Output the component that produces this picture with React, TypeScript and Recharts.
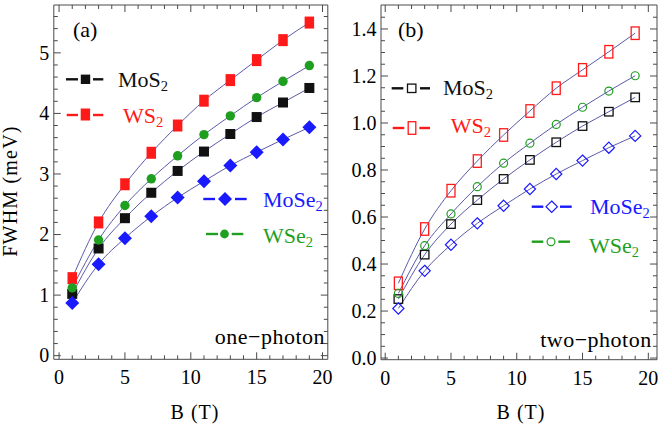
import React from 'react';
import { LineChart, Line, XAxis, YAxis } from 'recharts';

// ---------- data ----------
const B_FIELD = [1, 3, 5, 7, 9, 11, 13, 15, 17, 19];

// (a) one-photon FWHM (meV)
const ONE_MOS2 = [1.02, 1.77, 2.27, 2.69, 3.05, 3.37, 3.66, 3.94, 4.18, 4.42];
const ONE_WS2 = [1.28, 2.2, 2.83, 3.35, 3.8, 4.21, 4.55, 4.88, 5.21, 5.5];
const ONE_MOSE2 = [0.87, 1.51, 1.94, 2.3, 2.61, 2.88, 3.14, 3.36, 3.57, 3.77];
const ONE_WSE2 = [1.12, 1.91, 2.48, 2.92, 3.3, 3.65, 3.96, 4.26, 4.53, 4.79];

// (b) two-photon FWHM (meV)
const TWO_MOS2 = [0.251, 0.44, 0.57, 0.672, 0.762, 0.843, 0.918, 0.987, 1.048, 1.109];
const TWO_WS2 = [0.318, 0.549, 0.712, 0.838, 0.949, 1.051, 1.148, 1.226, 1.303, 1.382];
const TWO_MOSE2 = [0.211, 0.371, 0.482, 0.573, 0.648, 0.719, 0.783, 0.84, 0.895, 0.945];
const TWO_WSE2 = [0.275, 0.478, 0.613, 0.729, 0.829, 0.914, 0.994, 1.067, 1.136, 1.201];

// ticks
const X_MAJOR = [0, 5, 10, 15, 20];
const X_TICKS = [0, 1, 2, 3, 4, 5, 6, 7, 8, 9, 10, 11, 12, 13, 14, 15, 16, 17, 18, 19, 20];
const Y1_MAJOR = [0, 1, 2, 3, 4, 5];
const Y1_TICKS = [0, 0.2, 0.4, 0.6, 0.8, 1, 1.2, 1.4, 1.6, 1.8, 2, 2.2, 2.4, 2.6, 2.8, 3, 3.2, 3.4, 3.6, 3.8, 4, 4.2, 4.4, 4.6, 4.8, 5, 5.2, 5.4, 5.6];
const Y2_MAJOR = [0, 0.2, 0.4, 0.6, 0.8, 1.0, 1.2, 1.4];
const Y2_LABELS = ['0.0', '0.2', '0.4', '0.6', '0.8', '1.0', '1.2', '1.4'];
const Y2_TICKS = [0, 0.05, 0.1, 0.15, 0.2, 0.25, 0.3, 0.35, 0.4, 0.45, 0.5, 0.55, 0.6, 0.65, 0.7, 0.75, 0.8, 0.85, 0.9, 0.95, 1.0, 1.05, 1.1, 1.15, 1.2, 1.25, 1.3, 1.35, 1.4, 1.45];

const SERIES = ['mos2', 'ws2', 'mose2', 'wse2'];

const dataOne = B_FIELD.map((b, i) => ({ b, mos2: ONE_MOS2[i], ws2: ONE_WS2[i], mose2: ONE_MOSE2[i], wse2: ONE_WSE2[i] }));
const dataTwo = B_FIELD.map((b, i) => ({ b, mos2: TWO_MOS2[i], ws2: TWO_WS2[i], mose2: TWO_MOSE2[i], wse2: TWO_WSE2[i] }));

// ---------- styles ----------
const FONT = "'Liberation Serif', 'Times New Roman', Tinos, Times, serif";
const FRAME = '#4a4a4a';
const CURVE = '#5a5aa8';
const RED = '#ff1a1a';
const GREEN = '#1f9f1f';
const BLUE = '#1a1aff';
const BLACK = '#111111';

type Side = 'bottom' | 'top' | 'left' | 'right';

function makeTick(side: Side, majors: number[], labels?: string[]) {
  return (props: any) => {
    const { x, y, payload } = props;
    const v = payload.value;
    const mi = majors.findIndex((m) => Math.abs(m - v) < 1e-6);
    const major = mi >= 0;
    const len = major ? 7 : 4;
    let ln: any = null;
    let tx: any = null;
    if (side === 'bottom') {
      ln = <line x1={x} y1={y} x2={x} y2={y - len} />;
      if (labels && major) tx = <text x={x} y={y + 25} textAnchor="middle">{labels[mi]}</text>;
    } else if (side === 'top') {
      ln = <line x1={x} y1={y} x2={x} y2={y + len} />;
    } else if (side === 'left') {
      ln = <line x1={x} y1={y} x2={x + len} y2={y} />;
      if (labels && major) tx = <text x={x - 4.5} y={y + 6.8} textAnchor="end">{labels[mi]}</text>;
    } else {
      ln = <line x1={x} y1={y} x2={x - len} y2={y} />;
    }
    return (
      <g>
        <g stroke={FRAME} strokeWidth={1}>{ln}</g>
        {tx && <g fill="#000" style={{ fontFamily: FONT, fontSize: 20 }}>{tx}</g>}
      </g>
    );
  };
}

// ---------- marker shapes ----------
function fSquare(color: string, w: number, h: number) {
  return (p: any) => <rect key={`s${p.index}`} x={p.cx - w / 2} y={p.cy - h / 2} width={w} height={h} fill={color} />;
}
function fCircle(color: string, r: number) {
  return (p: any) => <circle key={`c${p.index}`} cx={p.cx} cy={p.cy} r={r} fill={color} />;
}
function fDiamond(color: string, h: number) {
  return (p: any) => (
    <polygon key={`d${p.index}`} points={`${p.cx},${p.cy - h} ${p.cx + h},${p.cy} ${p.cx},${p.cy + h} ${p.cx - h},${p.cy}`} fill={color} />
  );
}
function oSquare(color: string, w: number, h: number) {
  return (p: any) => <rect key={`os${p.index}`} x={p.cx - w / 2} y={p.cy - h / 2} width={w} height={h} fill="none" stroke={color} strokeWidth={1.3} />;
}
function oCircle(color: string, r: number) {
  return (p: any) => <circle key={`oc${p.index}`} cx={p.cx} cy={p.cy} r={r} fill="none" stroke={color} strokeWidth={1.2} />;
}
function oDiamond(color: string, h: number) {
  return (p: any) => (
    <polygon key={`od${p.index}`} points={`${p.cx},${p.cy - h} ${p.cx + h},${p.cy} ${p.cx},${p.cy + h} ${p.cx - h},${p.cy}`} fill="none" stroke={color} strokeWidth={1.2} />
  );
}

const DOTS_ONE: Record<string, any> = {
  mos2: fSquare(BLACK, 10, 10),
  ws2: fSquare(RED, 9.5, 12),
  mose2: fDiamond(BLUE, 7),
  wse2: fCircle(GREEN, 4.7),
};
const DOTS_TWO: Record<string, any> = {
  mos2: oSquare(BLACK, 8.5, 8.5),
  ws2: oSquare(RED, 8, 12.5),
  mose2: oDiamond(BLUE, 5.6),
  wse2: oCircle(GREEN, 4),
};

function Panel(props: {
  data: any[];
  width: number;
  margin: any;
  yDomain: [number, number];
  yTicks: number[];
  yMajor: number[];
  yLabels: string[];
  xDomain: [number, number];
  dots: Record<string, any>;
}) {
  const { data, width, margin, yDomain, yTicks, yMajor, yLabels, xDomain, dots } = props;
  const axisLine = { stroke: FRAME, strokeWidth: 1 };
  return (
    <LineChart width={width} height={428} data={data} margin={margin}>
      <XAxis xAxisId="b" dataKey="b" type="number" orientation="bottom" domain={xDomain} allowDataOverflow
        ticks={X_TICKS} interval={0} height={1} tickSize={0} tickMargin={0} tickLine={false} axisLine={axisLine}
        tick={makeTick('bottom', X_MAJOR, X_MAJOR.map(String))} />
      <XAxis xAxisId="t" dataKey="b" type="number" orientation="top" domain={xDomain} allowDataOverflow
        ticks={X_TICKS} interval={0} height={1} tickSize={0} tickMargin={0} tickLine={false} axisLine={axisLine}
        tick={makeTick('top', X_MAJOR)} />
      <YAxis yAxisId="l" type="number" orientation="left" domain={yDomain} allowDataOverflow
        ticks={yTicks} interval={0} width={1} tickSize={0} tickMargin={0} tickLine={false} axisLine={axisLine}
        tick={makeTick('left', yMajor, yLabels)} />
      <YAxis yAxisId="r" type="number" orientation="right" domain={yDomain} allowDataOverflow
        ticks={yTicks} interval={0} width={1} tickSize={0} tickMargin={0} tickLine={false} axisLine={axisLine}
        tick={makeTick('right', yMajor)} />
      {SERIES.map((k) => (
        <Line key={`l-${k}`} xAxisId="b" yAxisId="l" dataKey={k} type="monotone" stroke={CURVE} strokeWidth={1}
          dot={false} activeDot={false} isAnimationActive={false} />
      ))}
      {SERIES.map((k) => (
        <Line key={`m-${k}`} xAxisId="b" yAxisId="l" dataKey={k} stroke="none" strokeWidth={0}
          dot={dots[k]} activeDot={false} isAnimationActive={false} />
      ))}
    </LineChart>
  );
}

function Sub(props: { x: number; y: number; base: string; color: string; size?: number }) {
  const s = props.size ?? 22;
  return (
    <text x={props.x} y={props.y} fill={props.color} style={{ fontFamily: FONT, fontSize: s }}>
      {props.base}
      <tspan style={{ fontSize: s * 0.66 }} dy={4}>2</tspan>
    </text>
  );
}

function Dash(props: { y: number; a: [number, number]; b: [number, number]; color: string }) {
  return (
    <g stroke={props.color} strokeWidth={2.4}>
      <line x1={props.a[0]} y1={props.y} x2={props.a[1]} y2={props.y} />
      <line x1={props.b[0]} y1={props.y} x2={props.b[1]} y2={props.y} />
    </g>
  );
}

function T(props: { x: number; y: number; size: number; anchor?: string; ls?: number; rot?: boolean; children: any }) {
  return (
    <text x={props.x} y={props.y} textAnchor={props.anchor ?? 'start'} fill="#000"
      transform={props.rot ? `rotate(-90 ${props.x} ${props.y})` : undefined}
      style={{ fontFamily: FONT, fontSize: props.size, letterSpacing: props.ls ?? 0 }}>
      {props.children}
    </text>
  );
}

function Overlay() {
  return (
    <svg width={659} height={428} style={{ position: 'absolute', left: 0, top: 0, pointerEvents: 'none' }}>
      {/* axis titles */}
      <T x={17} y={191} size={20} anchor="middle" ls={1.2} rot>FWHM  (meV)</T>
      <T x={195} y={419} size={20} anchor="middle" ls={1}>B (T)</T>
      <T x={521} y={419} size={20} anchor="middle" ls={1}>B (T)</T>

      {/* panel (a) */}
      <T x={73} y={37} size={22}>(a)</T>
      <Dash y={79.3} a={[66, 78]} b={[93, 103.3]} color={BLACK} />
      <rect x={80.8} y={74.6} width={9.4} height={9.4} fill={BLACK} />
      <Sub x={118} y={86.7} base="MoS" color={BLACK} />
      <Dash y={115} a={[66.7, 78]} b={[93, 103.3]} color={RED} />
      <rect x={80.7} y={108.5} width={9.4} height={12} fill={RED} />
      <Sub x={123} y={123} base="WS" color={RED} />
      <Dash y={199} a={[203.3, 215]} b={[235, 246.7]} color={BLUE} />
      <polygon points="225,192 232,199 225,206 218,199" fill={BLUE} />
      <Sub x={263} y={206.7} base="MoSe" color={BLUE} />
      <Dash y={234} a={[206, 218]} b={[231.7, 243.3]} color={GREEN} />
      <circle cx={224.5} cy={234} r={4.4} fill={GREEN} />
      <Sub x={263} y={243} base="WSe" color={GREEN} />
      <T x={325} y={344} size={22} anchor="end" ls={0.5}>one−photon</T>

      {/* panel (b) */}
      <T x={398} y={36.7} size={22}>(b)</T>
      <Dash y={88.3} a={[391.7, 403.3]} b={[420, 430]} color={BLACK} />
      <rect x={407.5} y={84.1} width={8.4} height={8.4} fill="none" stroke={BLACK} strokeWidth={1.3} />
      <Sub x={443} y={95} base="MoS" color={BLACK} />
      <Dash y={128} a={[392.7, 404.3]} b={[419.3, 430]} color={RED} />
      <rect x={408.2} y={121.7} width={7.6} height={12.6} fill="none" stroke={RED} strokeWidth={1.3} />
      <Sub x={450.7} y={133} base="WS" color={RED} />
      <Dash y={206.7} a={[531.7, 543.3]} b={[560, 571.7]} color={BLUE} />
      <polygon points="551.7,201 557.4,206.7 551.7,212.4 546,206.7" fill="none" stroke={BLUE} strokeWidth={1.2} />
      <Sub x={590} y={214} base="MoSe" color={BLUE} />
      <Dash y={241.7} a={[531.7, 543.3]} b={[558.3, 570]} color={GREEN} />
      <circle cx={551} cy={241.7} r={3.9} fill="none" stroke={GREEN} strokeWidth={1.2} />
      <Sub x={589} y={252.7} base="WSe" color={GREEN} />
      <T x={651.7} y={347.3} size={22} anchor="end" ls={0.5}>two−photon</T>
    </svg>
  );
}

export default function App() {
  return (
    <div style={{ position: 'absolute', left: 0, top: 0, width: 659, height: 428, background: '#fff', overflow: 'hidden' }}>
      <div style={{ position: 'absolute', left: 0, top: 0 }}>
        <Panel
          data={dataOne}
          width={345}
          margin={{ top: 4, left: 52.8, right: 16.2, bottom: 67.7 }}
          yDomain={[-0.06, 5.79]}
          yTicks={Y1_TICKS}
          yMajor={Y1_MAJOR}
          yLabels={Y1_MAJOR.map(String)}
          xDomain={[-0.4, 20.4]}
          dots={DOTS_ONE}
        />
      </div>
      <div style={{ position: 'absolute', left: 330, top: 0 }}>
        <Panel
          data={dataTwo}
          width={329}
          margin={{ top: 4, left: 50, right: 1, bottom: 67.3 }}
          yDomain={[-0.007, 1.502]}
          yTicks={Y2_TICKS}
          yMajor={Y2_MAJOR}
          yLabels={Y2_LABELS}
          xDomain={[-0.32, 20.66]}
          dots={DOTS_TWO}
        />
      </div>
      <Overlay />
    </div>
  );
}
